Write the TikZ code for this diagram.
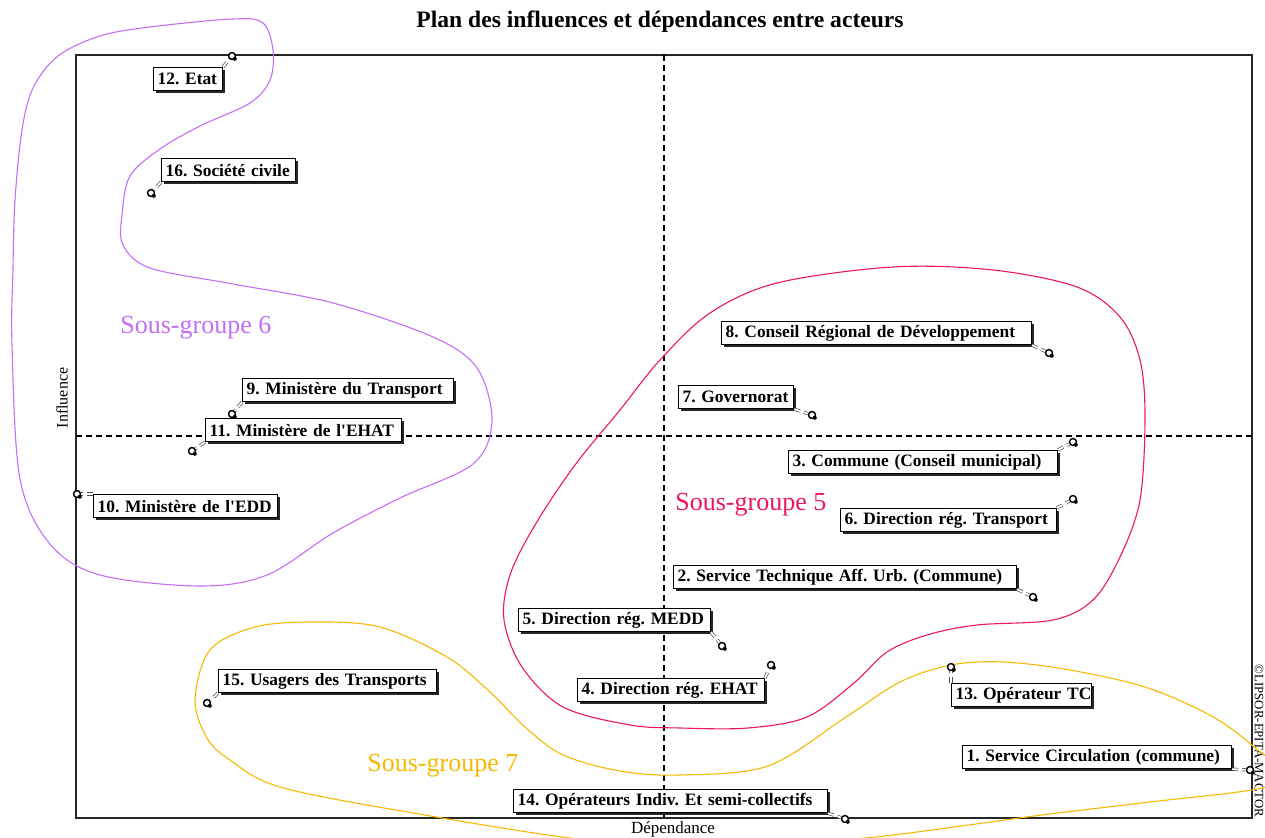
\documentclass[tikz,border=0pt]{standalone}
\usepackage{fontspec}
\setmainfont{Liberation Serif}
\usetikzlibrary{shadows}
\definecolor{sgviolet}{RGB}{196,110,246}
\definecolor{sgrose}{RGB}{236,22,98}
\definecolor{sgorange}{RGB}{246,184,0}
\tikzset{
  lbl/.style={draw=black, line width=0.6pt, fill=white, anchor=north west,
    inner xsep=2pt, inner ysep=0pt, minimum height=11.5pt, align=left,
    font=\fontsize{8.7}{10}\selectfont\bfseries,
    drop shadow={shadow xshift=1.4pt, shadow yshift=-1.4pt, fill=black, opacity=0.85}},
  mk/.style={circle, draw=black, line width=0.65pt, fill=white, inner sep=0pt, minimum size=3.4pt},
  conn/.style={draw=black!70, line width=0.35pt, densely dashed, double=white, double distance=0.9pt},
  sg/.style={font=\fontsize{13}{15}\selectfont, anchor=west, inner sep=0pt},
  curve/.style={line width=0.55pt},
}
\newcommand{\keydot}[1]{\fill[black] ([shift={(2.8,2.8)}]#1) circle (1pt);}
\newcommand{\lt}[1]{\mbox{#1}}
\begin{document}
\frenchspacing
\begin{tikzpicture}[x=0.5pt, y=-0.5pt]
\useasboundingbox (0,0) rectangle (1265,838);
% title
\node[font=\fontsize{11.8}{13}\selectfont\bfseries] (title) at (660,22) {Plan des influences et dépendances entre acteurs};
% frame and axes
\draw[line width=0.9pt, black!85] (76,55) rectangle (1252,818);
\coordinate (vt) at (664,55); \coordinate (vb) at (664,818);
\coordinate (hl) at (76,436); \coordinate (hr) at (1252,436);
\draw[densely dashed, line width=0.6pt] (vt) -- (vb);
\draw[densely dashed, line width=0.6pt] (hl) -- (hr);
\node[rotate=90, font=\fontsize{8}{9}\selectfont] (infl) at (62,398) {Influence};
\node[font=\fontsize{8.5}{9}\selectfont] (dep) at (673,829) {Dépendance};
\node[rotate=-90, font=\fontsize{6.4}{7}\selectfont] (copy) at (1259,741) {©LIPSOR-EPITA-MACTOR};

% group curves
\begin{scope}
\clip (0,0) rectangle (1265,838);
\draw[sgviolet, curve] plot[smooth cycle, tension=0.55] coordinates {
 (273,50) (263,23) (233,19) (150,27) (100,36) (58,56) (33,88) (22,130) (15,200) (13,268) (12,345) (20,479)
 (50,544) (100,575) (200,586) (267,575) (333,533) (400,498) (473,464) (492,421) (477,368)
 (433,337) (333,303) (233,284) (150,268) (123,245) (122,215) (130,176) (160,149) (200,126)
 (250,103) (270,80)};
\draw[sgrose, curve] plot[smooth cycle, tension=0.55] coordinates {
 (660,360) (710,313) (777,283) (893,267) (993,270) (1077,287) (1120,317) (1140,360)
 (1145,417) (1140,500) (1120,557) (1093,600) (1053,620) (977,625) (927,635) (887,652)
 (854,683) (807,717) (748,728) (680,728) (630,725) (563,707) (522,667) (504,620)
 (510,575) (535,525) (575,465) (620,410)};
\draw[sgorange, curve] plot[smooth cycle, tension=0.55] coordinates {
 (313,622) (380,627) (447,657) (490,692) (525,727) (563,755) (620,771) (680,775)
 (768,766) (846,717) (900,682) (951,665) (1003,662) (1070,670) (1148,688) (1215,718)
 (1258,750) (1280,770) (1262,788) (1150,802) (1042,815) (866,838) (725,846) (587,840)
 (413,813) (280,787) (230,760) (207,738) (195,700) (210,650) (255,627)};
\end{scope}
\node[sg, text=sgviolet] (sg6) at (120,328) {Sous-groupe 6};
\node[sg, text=sgrose] (sg5) at (675,505) {Sous-groupe 5};
\node[sg, text=sgorange] (sg7) at (367,766) {Sous-groupe 7};

% markers
\node[mk] (m12) at (232,56) {};
\node[mk] (m16) at (151,193) {};
\node[mk] (m9) at (232,414) {};
\node[mk] (m11) at (192,451) {};
\node[mk] (m10) at (77,494) {};
\node[mk] (m8) at (1049,353) {};
\node[mk] (m7) at (812,415) {};
\node[mk] (m3) at (1073,442) {};
\node[mk] (m6) at (1073,499) {};
\node[mk] (m2) at (1033,597) {};
\node[mk] (m5) at (722,646) {};
\node[mk] (m4) at (771,665) {};
\node[mk] (m13) at (951,667) {};
\node[mk] (m15) at (207,703) {};
\node[mk] (m1) at (1250,770) {};
\node[mk] (m14) at (845,819) {};

% labels
\node[lbl, text width=30.4pt] (n12) at (153,67) {\lt{12. Etat}};
\node[lbl, text width=62.9pt] (n16) at (161,158) {\lt{16. Société civile}};
\node[lbl, text width=101.4pt] (n9) at (242,378) {\lt{9. Ministère du Transport}};
\node[lbl, text width=94pt] (n11) at (205,418) {\lt{11. Ministère de l\textquotesingle EHAT}};
\node[lbl, text width=88pt] (n10) at (93,494) {\lt{10. Ministère de l\textquotesingle EDD}};
\node[lbl, text width=150.9pt] (n8) at (721,321) {\lt{8. Conseil Régional de Développement}};
\node[lbl, text width=53.5pt] (n7) at (678,385) {\lt{7. Governorat}};
\node[lbl, text width=130.4pt] (n3) at (788,450) {\lt{3. Commune (Conseil municipal)}};
\node[lbl, text width=103.9pt] (n6) at (840,508) {\lt{6. Direction rég. Transport}};
\node[lbl, text width=167.4pt] (n2) at (673,565) {\lt{2. Service Technique Aff. Urb. (Commune)}};
\node[lbl, text width=91.9pt] (n5) at (518,608) {\lt{5. Direction rég. MEDD}};
\node[lbl, text width=89.4pt] (n4) at (577,678) {\lt{4. Direction rég. EHAT}};
\node[lbl, text width=66pt] (n13) at (951,683) {\lt{13. Opérateur TC}};
\node[lbl, text width=104.9pt] (n15) at (218,669) {\lt{15. Usagers des Transports}};
\node[lbl, text width=130.4pt] (n1) at (962,745) {\lt{1. Service Circulation (commune)}};
\node[lbl, text width=152.9pt] (n14) at (513,789) {\lt{14. Opérateurs Indiv. Et semi-collectifs}};

% connectors
\draw[conn] (n12.north east) -- (m12);
\draw[conn] (n16.south west) -- (m16);
\draw[conn] (n9.south west) -- (m9);
\draw[conn] (n11.south west) -- (m11);
\draw[conn] (n10.north west) -- (m10);
\draw[conn] (n8.south east) -- (m8);
\draw[conn] (n7.south east) -- (m7);
\draw[conn] (n3.north east) -- (m3);
\draw[conn] (n6.north east) -- (m6);
\draw[conn] (n2.south east) -- (m2);
\draw[conn] (n5.south east) -- (m5);
\draw[conn] (n4.north east) -- (m4);
\draw[conn] (n13.north west) -- (m13);
\draw[conn] (n15.south west) -- (m15);
\draw[conn] (n1.south east) -- (m1);
\draw[conn] (n14.south east) -- (m14);
% marker dots
\foreach \m in {m12,m16,m9,m11,m10,m8,m7,m3,m6,m2,m5,m4,m13,m15,m1,m14}{
  \node[mk] at (\m) {};
  \keydot{\m}
}
\end{tikzpicture}
\end{document}
